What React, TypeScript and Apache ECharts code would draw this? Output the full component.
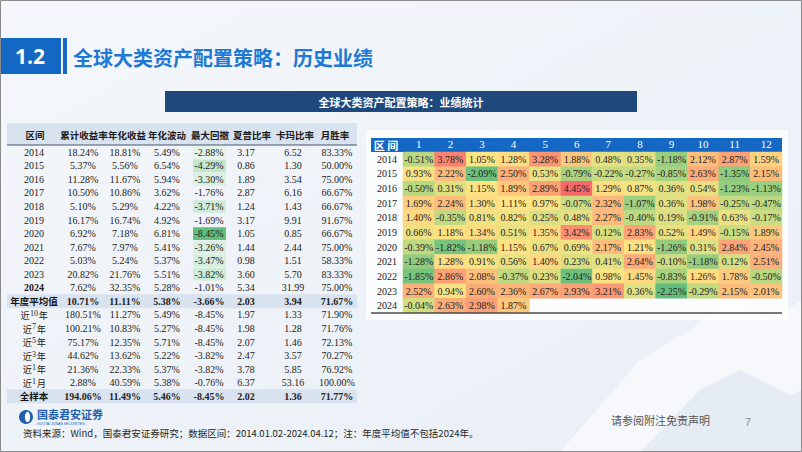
import React, { useEffect, useRef } from 'react';
import * as echarts from 'echarts';

// ---------- Heatmap data (monthly returns, %) ----------
const months = ['1', '2', '3', '4', '5', '6', '7', '8', '9', '10', '11', '12'];
const years = ['2014', '2015', '2016', '2017', '2018', '2019', '2020', '2021', '2022', '2023', '2024'];
const r2014 = [-0.51, 3.78, 1.05, 1.28, 3.28, 1.88, 0.48, 0.35, -1.18, 2.12, 2.87, 1.59];
const r2015 = [0.93, 2.22, -2.09, 2.5, 0.53, -0.79, -0.22, -0.27, -0.85, 2.63, -1.35, 2.15];
const r2016 = [-0.5, 0.31, 1.15, 1.89, 2.89, 4.45, 1.29, 0.87, 0.36, 0.54, -1.23, -1.13];
const r2017 = [1.69, 2.24, 1.3, 1.11, 0.97, -0.07, 2.32, -1.07, 0.36, 1.98, -0.25, -0.47];
const r2018 = [1.4, -0.35, 0.81, 0.82, 0.25, 0.48, 2.27, -0.4, 0.19, -0.91, 0.63, -0.17];
const r2019 = [0.66, 1.18, 1.34, 0.51, 1.35, 3.42, 0.12, 2.83, 0.52, 1.49, -0.15, 1.89];
const r2020 = [-0.39, -1.82, -1.18, 1.15, 0.67, 0.69, 2.17, 1.21, -1.26, 0.31, 2.84, 2.45];
const r2021 = [-1.28, 1.28, 0.91, 0.56, 1.4, 0.23, 0.41, 2.64, -0.1, -1.18, 0.12, 2.51];
const r2022 = [-1.85, 2.86, 2.08, -0.37, 0.23, -2.04, 0.98, 1.45, -0.83, 1.26, 1.78, -0.5];
const r2023 = [2.52, 0.94, 2.6, 2.36, 2.67, 2.93, 3.21, 0.36, -2.25, -0.29, 2.15, 2.01];
const r2024 = [-0.04, 2.63, 2.98, 1.87];
const monthly = [r2014, r2015, r2016, r2017, r2018, r2019, r2020, r2021, r2022, r2023, r2024];

// ---------- Left statistics table ----------
const tableHeaders = ['区间', '累计收益率', '年化收益', '年化波动', '最大回撤', '夏普比率', '卡玛比率', '月胜率'];
const periods = ['2014', '2015', '2016', '2017', '2018', '2019', '2020', '2021', '2022', '2023', '2024',
  '年度平均值', '近10年', '近7年', '近5年', '近3年', '近1年', '近1月', '全样本'];
const cumReturn = [18.24, 5.37, 11.28, 10.5, 5.1, 16.17, 6.92, 7.67, 5.03, 20.82, 7.62, 10.71, 180.51, 100.21, 75.17, 44.62, 21.36, 2.88, 194.06];
const annReturn = [18.81, 5.56, 11.67, 10.86, 5.29, 16.74, 7.18, 7.97, 5.24, 21.76, 32.35, 11.11, 11.27, 10.83, 12.35, 13.62, 22.33, 40.59, 11.49];
const annVol = [5.49, 6.54, 5.94, 3.62, 4.22, 4.92, 6.81, 5.41, 5.37, 5.51, 5.28, 5.38, 5.49, 5.27, 5.71, 5.22, 5.37, 5.38, 5.46];
const maxDrawdown = [-2.88, -4.29, -3.3, -1.76, -3.71, -1.69, -8.45, -3.26, -3.47, -3.82, -1.01, -3.66, -8.45, -8.45, -8.45, -3.82, -3.82, -0.76, -8.45];
const sharpe = [3.17, 0.86, 1.89, 2.87, 1.24, 3.17, 1.05, 1.44, 0.98, 3.6, 5.34, 2.03, 1.97, 1.98, 2.07, 2.47, 3.78, 6.37, 2.02];
const calmar = [6.52, 1.3, 3.54, 6.16, 1.43, 9.91, 0.85, 2.44, 1.51, 5.7, 31.99, 3.94, 1.33, 1.28, 1.46, 3.57, 5.85, 53.16, 1.36];
const winRate = [83.33, 50.0, 75.0, 66.67, 66.67, 91.67, 66.67, 75.0, 58.33, 83.33, 75.0, 71.67, 71.9, 71.76, 72.13, 70.27, 76.92, 100.0, 71.77];

const CJK = '"Noto Sans CJK SC", sans-serif';
const SERIF = '"Liberation Serif", "DejaVu Serif", serif';

export default function App() {
  const ref = useRef<HTMLDivElement>(null);

  useEffect(() => {
    document.body.style.margin = '0';
    const chart = echarts.init(ref.current as HTMLDivElement, null, { renderer: 'svg' });

    const heatData: number[][] = [];
    monthly.forEach((row, yi) => row.forEach((v, xi) => heatData.push([xi, yi, v])));

    const g: any[] = [];
    // background
    g.push({
      type: 'rect', z: -100, shape: { x: 0, y: 0, width: 802, height: 452 },
      style: {
        fill: new echarts.graphic.LinearGradient(0, 0, 1, 1, [
          { offset: 0, color: '#f4f7fb' }, { offset: 1, color: '#e9eff6' },
        ]),
      },
    });
    // faint mountain watermark
    g.push({ type: 'polygon', z: -99, shape: { points: [[560, 452], [640, 360], [690, 330], [730, 300], [770, 320], [802, 300], [802, 452]] }, style: { fill: 'rgba(255,255,255,0.55)' } });
    g.push({ type: 'polygon', z: -99, shape: { points: [[640, 452], [700, 390], [740, 370], [790, 395], [802, 390], [802, 452]] }, style: { fill: 'rgba(210,222,236,0.45)' } });
    // border
    g.push({ type: 'rect', z: 100, shape: { x: 0.5, y: 0.5, width: 801, height: 451 }, style: { fill: 'none', stroke: '#8a8a8a', lineWidth: 1 } });

    // title
    g.push({ type: 'rect', shape: { x: 0, y: 38, width: 61, height: 36 }, style: { fill: '#1467c3' } });
    g.push({ type: 'rect', shape: { x: 63, y: 38, width: 4, height: 36 }, style: { fill: '#1467c3' } });
    g.push({ type: 'text', style: { text: '1.2', x: 30, y: 56, align: 'center', verticalAlign: 'middle', fill: '#fff', fontSize: 21, fontWeight: 'bold', fontFamily: '"Open Sans", "Liberation Sans", sans-serif' } });
    g.push({ type: 'text', style: { text: '全球大类资产配置策略：历史业绩', x: 73, y: 57, verticalAlign: 'middle', fill: '#1d79d4', fontSize: 20, fontWeight: 'bold', fontFamily: CJK } });

    // subtitle bar
    g.push({ type: 'rect', shape: { x: 165, y: 91, width: 472, height: 21 }, style: { fill: '#1f497d' } });
    g.push({ type: 'text', style: { text: '全球大类资产配置策略：业绩统计', x: 401, y: 101.5, align: 'center', verticalAlign: 'middle', fill: '#fff', fontSize: 11, fontWeight: 'bold', fontFamily: CJK } });

    // ---------- left table ----------
    const headerCx = [35, 84, 127, 167, 210, 252, 295, 335];
    const valueCx = [34, 83, 125, 167, 209, 246, 293, 337];
    const rowY = (i: number) => 152.3 + i * 13.55;
    g.push({ type: 'rect', z: -10, shape: { x: 7, y: 123, width: 350, height: 22 }, style: { fill: '#d9e3f0' } });
    g.push({ type: 'line', z: -9, shape: { x1: 7, y1: 145, x2: 357, y2: 145 }, style: { stroke: '#44546a', lineWidth: 1 } });
    const avgIdx = periods.indexOf('年度平均值');
    const allIdx = periods.indexOf('全样本');
    [avgIdx, allIdx].forEach((i) => {
      g.push({ type: 'rect', z: -10, shape: { x: 7, y: rowY(i) - 7, width: 350, height: 14 }, style: { fill: '#d9e3f0' } });
    });
    tableHeaders.forEach((h, c) => {
      g.push({ type: 'text', style: { text: h, x: headerCx[c], y: 134.5, align: 'center', verticalAlign: 'middle', fill: '#1a1a1a', fontSize: 9.5, fontWeight: 'bold', fontFamily: CJK } });
    });
    // drawdown highlight (yearly rows 2014-2023)
    const ddYears = maxDrawdown.slice(0, 10);
    const ddMin = Math.min(...ddYears);
    const ddMax = Math.max(...ddYears);
    ddYears.forEach((v, i) => {
      const t = (v - ddMax) / (ddMin - ddMax);
      if (t < 0.05) return;
      const r = Math.round(255 - t * (255 - 99));
      const gg = Math.round(255 - t * (255 - 190));
      const b = Math.round(255 - t * (255 - 123));
      g.push({ type: 'rect', z: -5, shape: { x: 193, y: rowY(i) - 6.3, width: 33, height: 12.6 }, style: { fill: `rgb(${r},${gg},${b})` } });
    });
    const pct = (v: number) => v.toFixed(2) + '%';
    const fix = (v: number) => v.toFixed(2);
    periods.forEach((p, i) => {
      const y = rowY(i);
      const bold = i === avgIdx || i === allIdx;
      const fw = bold ? 'bold' : 'normal';
      if (/^\d{4}$/.test(p)) {
        g.push({ type: 'text', style: { text: p, x: valueCx[0], y, align: 'center', verticalAlign: 'middle', fill: '#222', fontSize: 10, fontWeight: p === '2024' ? 'bold' : 'normal', fontFamily: SERIF } });
      } else if (bold) {
        g.push({ type: 'text', style: { text: p, x: valueCx[0], y, align: 'center', verticalAlign: 'middle', fill: '#111', fontSize: 9.5, fontWeight: 'bold', fontFamily: CJK } });
      } else {
        const m = p.match(/^(近)(\d+)(.)$/);
        if (m) {
          const cjkW = 9.2;
          const numW = m[2].length * 4.2;
          const x0 = valueCx[0] - (2 * cjkW + numW) / 2;
          g.push({ type: 'text', style: { text: m[1], x: x0, y: y + 0.3, verticalAlign: 'middle', fill: '#222', fontSize: 9.2, fontFamily: CJK } });
          g.push({ type: 'text', style: { text: m[2], x: x0 + cjkW + 0.2, y: y - 1.5, verticalAlign: 'middle', fill: '#222', fontSize: 8, fontFamily: SERIF } });
          g.push({ type: 'text', style: { text: m[3], x: x0 + cjkW + numW + 0.6, y: y + 0.3, verticalAlign: 'middle', fill: '#222', fontSize: 9.2, fontFamily: CJK } });
        } else {
          g.push({ type: 'text', style: { text: p, x: valueCx[0], y, align: 'center', verticalAlign: 'middle', fill: '#222', fontSize: 9.2, fontFamily: CJK } });
        }
      }
      const vals = [pct(cumReturn[i]), pct(annReturn[i]), pct(annVol[i]), pct(maxDrawdown[i]), fix(sharpe[i]), fix(calmar[i]), pct(winRate[i])];
      vals.forEach((v, c) => {
        g.push({ type: 'text', style: { text: v, x: valueCx[c + 1], y, align: 'center', verticalAlign: 'middle', fill: '#222', fontSize: 10, fontWeight: fw, fontFamily: SERIF } });
      });
    });

    // ---------- heatmap frame ----------
    const hmLeft = 403, hmRight = 782, hmTop = 152, hmBottom = 313;
    g.push({ type: 'rect', z: -20, shape: { x: 366, y: 130, width: 422, height: 190 }, style: { fill: 'rgba(255,255,255,0.75)' } });
    g.push({ type: 'rect', z: -1, shape: { x: 371, y: 138, width: hmRight - 371, height: hmTop - 138 }, style: { fill: '#1467c3' } });
    g.push({ type: 'text', style: { text: '区 间', x: 386, y: 145, align: 'center', verticalAlign: 'middle', fill: '#fff', fontSize: 11, fontWeight: 'bold', fontFamily: CJK } });
    g.push({ type: 'line', z: 10, shape: { x1: 371, y1: hmBottom, x2: hmRight, y2: hmBottom }, style: { stroke: '#4d4d4d', lineWidth: 1.5 } });

    // ---------- footer ----------
    g.push({ type: 'circle', shape: { cx: 26, cy: 417, r: 7 }, style: { fill: '#1f5fae' } });
    g.push({ type: 'ellipse', shape: { cx: 27.5, cy: 417, rx: 2.6, ry: 5.2 }, style: { fill: '#fff' } });
    g.push({ type: 'text', style: { text: '国泰君安证券', x: 37, y: 414, verticalAlign: 'middle', fill: '#1f5fae', fontSize: 11, fontWeight: 'bold', fontFamily: CJK } });
    g.push({ type: 'text', style: { text: 'GUOTAI JUNAN SECURITIES', x: 37, y: 423.5, verticalAlign: 'middle', fill: '#1f5fae', fontSize: 3.5, fontFamily: '"Liberation Sans", sans-serif' } });
    g.push({ type: 'text', style: { text: '资料来源：Wind，国泰君安证券研究；数据区间：2014.01.02-2024.04.12；注：年度平均值不包括2024年。', x: 23, y: 433, verticalAlign: 'middle', fill: '#262626', fontSize: 9.5, fontFamily: CJK } });
    g.push({ type: 'text', style: { text: '请参阅附注免责声明', x: 611, y: 420, verticalAlign: 'middle', fill: '#555', fontSize: 11, fontFamily: CJK } });
    g.push({ type: 'text', style: { text: '7', x: 748, y: 422, align: 'center', verticalAlign: 'middle', fill: '#888', fontSize: 11, fontFamily: '"Liberation Sans", sans-serif' } });

    const option: any = {
      animation: false,
      grid: { left: hmLeft, right: 802 - hmRight, top: hmTop, bottom: 452 - hmBottom, containLabel: false },
      xAxis: {
        type: 'category', data: months, position: 'top',
        axisLine: { show: false }, axisTick: { show: false }, splitLine: { show: false },
        axisLabel: { color: '#fff', fontSize: 11, fontFamily: SERIF, margin: 3 },
      },
      yAxis: {
        type: 'category', data: years, inverse: true,
        axisLine: { show: false }, axisTick: { show: false }, splitLine: { show: false },
        axisLabel: { color: '#222', fontSize: 10, fontFamily: SERIF, margin: 6 },
      },
      visualMap: {
        show: false, type: 'continuous', dimension: 2, seriesIndex: 0,
        min: -2.25, max: 4.45,
        inRange: { color: ['#63BE7B', '#9ACE7E', '#D1DE81', '#FFE483', '#FCBB7B', '#FA9273', '#F8696B'] },
      },
      series: [{
        type: 'heatmap', data: heatData,
        itemStyle: { borderWidth: 0 },
        label: {
          show: true, fontSize: 10, fontFamily: SERIF, color: '#222',
          formatter: (p: any) => p.value[2].toFixed(2) + '%',
        },
        emphasis: { disabled: true },
      }],
      graphic: { elements: g },
    };
    chart.setOption(option);
    return () => chart.dispose();
  }, []);

  return <div ref={ref} style={{ width: 802, height: 452 }} />;
}
